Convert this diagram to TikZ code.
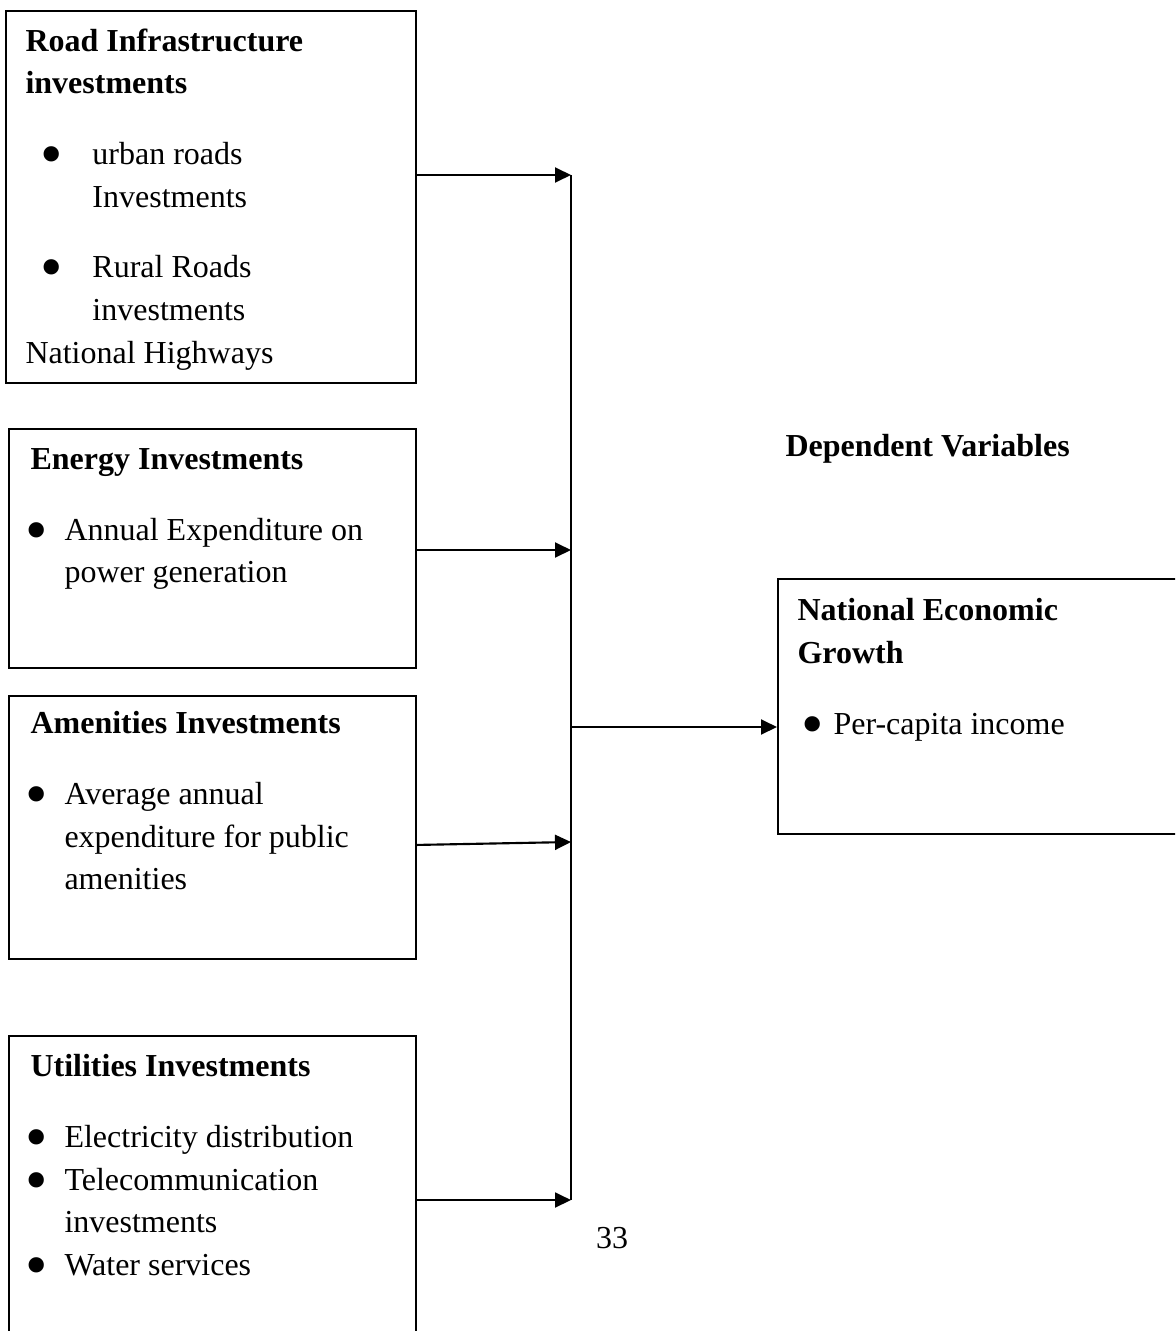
\documentclass[tikz,border=0pt]{standalone}
\usepackage{fontspec}
\setmainfont{Liberation Serif}
\usepackage{graphicx}
\usepackage{tikz}
\usetikzlibrary{shapes,arrows.meta}
\tikzstyle{frame}=[draw, line width=0.75pt, inner sep=0pt, anchor=north west]
\tikzstyle{txt}=[align=left, inner sep=0pt, anchor=north west, font=\fontsize{12}{16}\selectfont]
\tikzstyle{link}=[line width=0.8pt, -{Triangle[length=6pt,width=5.6pt]}]
\newcommand{\bigdot}{\smash{\raisebox{-4.2pt}{\scalebox{2}{\textbullet}}}}
\newcommand{\itm}[3]{\makebox[#2][l]{\hspace*{#1}\bigdot}#3}
\newcommand{\ind}[1]{\hspace*{#1}}

\begin{document}
\begin{tikzpicture}[x=0.375pt,y=-0.375pt]
\useasboundingbox (0,0) rectangle (1175,1331);
\clip (0,0) rectangle (1175,1331);

% boxes
\node[frame, minimum width=153.75pt, minimum height=139.5pt] (road) at (5,10) {};
\node[frame, minimum width=152.6pt, minimum height=89.6pt] (energy) at (8,428) {};
\node[frame, minimum width=152.6pt, minimum height=98.6pt] (amenity) at (8,695) {};
\node[frame, minimum width=152.6pt, minimum height=116.25pt] (utility) at (8,1035) {};
\node[frame, minimum width=157.5pt, minimum height=95.6pt] (growth) at (777,578) {};

% texts
\node[txt] (road-txt) at (25,28) {\textbf{Road Infrastructure}\\ \textbf{investments}\\[10.5pt]
\itm{5.5pt}{25.1pt}{urban roads}\\ \ind{25.1pt}Investments\\[10.5pt]
\itm{5.5pt}{25.1pt}{Rural Roads}\\ \ind{25.1pt}investments\\ National Highways};
\node[txt] (energy-txt) at (30,448) {\textbf{Energy Investments}\\[10.5pt]
\itm{-1.7pt}{12.75pt}{Annual Expenditure on}\\ \ind{12.75pt}power generation};
\node[txt] (amenity-txt) at (30,711) {\textbf{Amenities Investments}\\[10.5pt]
\itm{-1.7pt}{12.75pt}{Average annual}\\ \ind{12.75pt}expenditure for public\\ \ind{12.75pt}amenities};
\node[txt] (utility-txt) at (30,1054) {\textbf{Utilities Investments}\\[10.5pt]
\itm{-1.7pt}{12.75pt}{Electricity distribution}\\ \itm{-1.7pt}{12.75pt}{Telecommunication}\\
\ind{12.75pt}investments\\ \itm{-1.7pt}{12.75pt}{Water services}};
\node[txt] (growth-txt) at (797,598) {\textbf{National Economic}\\ \textbf{Growth}\\[10.5pt]
\itm{1.5pt}{13.5pt}{Per-capita income}};
\node[txt] (dep) at (785,434) {\textbf{Dependent Variables}};
\node[txt, anchor=center] (page) at (612,1238) {33};

% connectors
\coordinate (b1) at (571,175);
\coordinate (b2) at (571,550);
\coordinate (b3) at (571,842);
\coordinate (b4) at (571,1200);
\coordinate (bm) at (571,727);
\draw[line width=0.8pt] (b1) -- (b4);
\draw[link] (road.east |- b1) -- (b1);
\draw[link] (energy.east |- b2) -- (b2);
\draw[link] ([yshift=-1.1pt]amenity.east |- b3) -- (b3);
\draw[link] (utility.east |- b4) -- (b4);
\draw[link] (bm) -- (growth.west |- bm);
\end{tikzpicture}
\end{document}
